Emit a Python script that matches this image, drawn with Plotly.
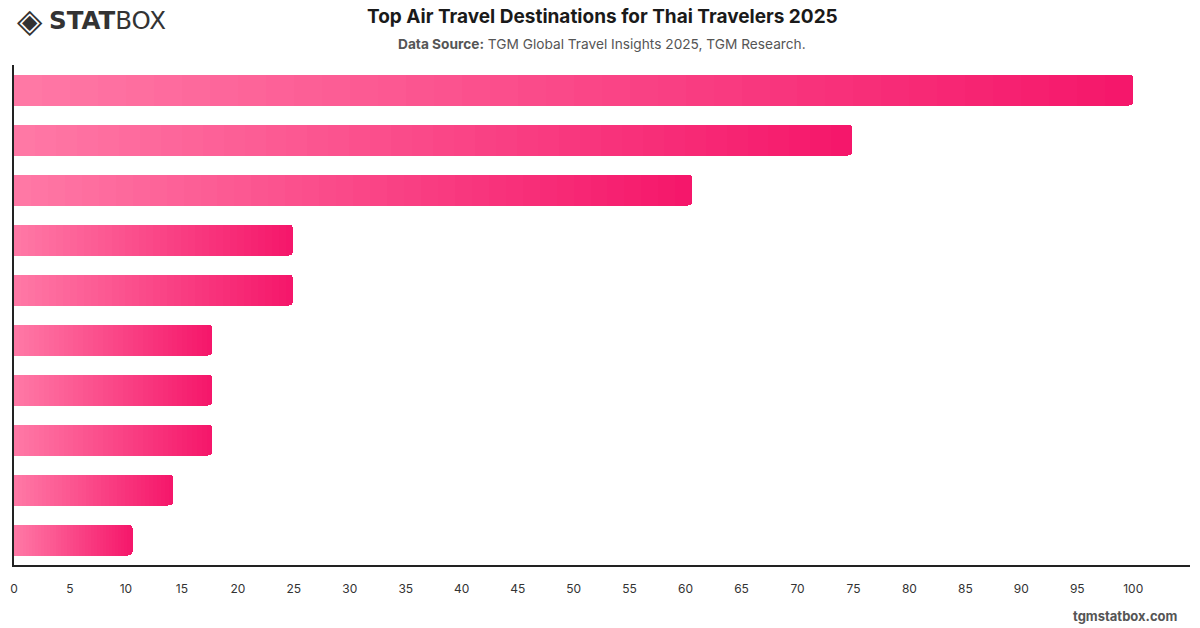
import plotly.graph_objects as go
import numpy as np

# ---- data ----
categories = ["Destination 1", "Destination 2", "Destination 3", "Destination 4", "Destination 5",
              "Destination 6", "Destination 7", "Destination 8", "Destination 9", "Destination 10"]
values = [100, 74.9, 60.6, 24.9, 24.9, 17.7, 17.7, 17.7, 14.2, 10.6]
x_ticks = list(range(0, 101, 5))

title = "Top Air Travel Destinations for Thai Travelers 2025"
subtitle = "<b>Data Source:</b> TGM Global Travel Insights 2025, TGM Research."

# gradient endpoints (per bar: light at base -> strong at end)
c_start = (255, 121, 166)
c_end = (245, 22, 106)
N = 40

L, R, T, B = 10, 10, 65, 63

fig = go.Figure()
vals = np.array(values, dtype=float)
for k in range(N):
    t = (k + 0.5) / N
    col = tuple(int(round(a + (b - a) * t)) for a, b in zip(c_start, c_end))
    fig.add_trace(go.Bar(
        y=categories, x=vals / N, orientation="h",
        marker=dict(color="rgb(%d,%d,%d)" % col, line=dict(width=0), cornerradius=4),
        hoverinfo="skip", showlegend=False,
    ))

fig.update_layout(
    barmode="stack", bargap=0.38,
    width=1200, height=628,
    margin=dict(l=L, r=R, t=T, b=B),
    paper_bgcolor="white", plot_bgcolor="white",
    font=dict(family="Inter, Roboto, sans-serif", color="#333"),
    xaxis=dict(range=[0, 105.07], tickvals=x_ticks, showgrid=False, zeroline=False,
               showline=True, linecolor="#222", linewidth=1.5, ticks="",
               tickfont=dict(size=12, color="#333"), ticklabelstandoff=12),
    yaxis=dict(categoryorder="array", categoryarray=categories[::-1], showticklabels=False,
               showgrid=False, zeroline=False, showline=True, linecolor="#222", linewidth=1.5,
               ticks="", range=[-0.5, 9.5]),
)

W = 1200 - L - R
H = 628 - T - B

def px_x(x):
    return (x - L) / W

def px_y(y):
    return (628 - B - y) / H

fig.add_annotation(text="<b>" + title + "</b>", x=px_x(600), y=px_y(17), xref="paper", yref="paper",
                   xanchor="center", yanchor="middle", showarrow=False,
                   font=dict(size=19, color="#1a1a1a"))
fig.add_annotation(text=subtitle, x=px_x(600), y=px_y(44), xref="paper", yref="paper",
                   xanchor="center", yanchor="middle", showarrow=False,
                   font=dict(size=13.7, color="#555"))
fig.add_annotation(text="◈", x=px_x(11), y=px_y(21), xref="paper", yref="paper",
                   xanchor="left", yanchor="middle", showarrow=False,
                   font=dict(size=33, color="#333", family="DejaVu Sans, sans-serif"))
fig.add_annotation(text="<b>STAT</b>BOX", x=px_x(43), y=px_y(21), xref="paper", yref="paper",
                   xanchor="left", yanchor="middle", showarrow=False,
                   font=dict(size=24.5, color="#333", family="DejaVu Sans, sans-serif"))
fig.add_annotation(text="<b>tgmstatbox.com</b>", x=px_x(1180), y=px_y(616), xref="paper", yref="paper",
                   xanchor="right", yanchor="middle", showarrow=False,
                   font=dict(size=13, color="#555"))

fig.write_html("out.html")
